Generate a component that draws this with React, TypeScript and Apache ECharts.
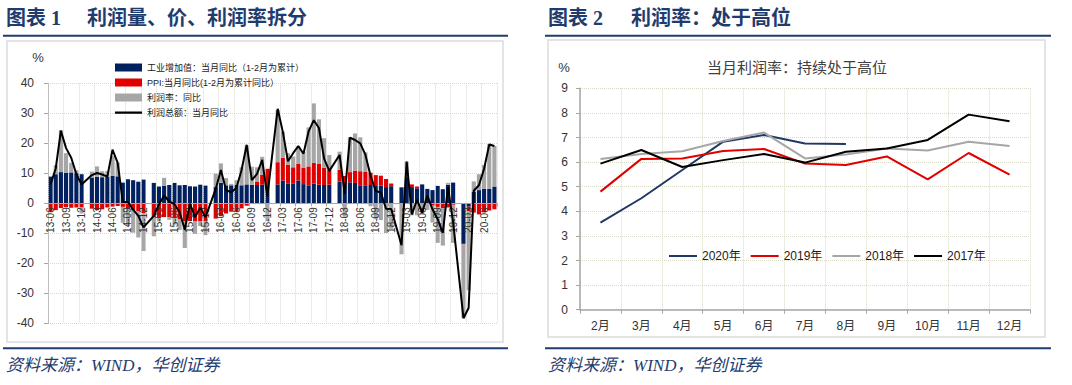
import React, { useEffect, useRef } from 'react';
import * as echarts from 'echarts';

const SANS = "'Liberation Sans', 'Noto Sans CJK SC', sans-serif";
const SERIF = "'Liberation Serif', 'Noto Sans CJK SC', serif";
const NAVY = '#1f3c6e';

// ---------- Left chart (图表 1) ----------
const monthLabels = [
  '13-06','13-07','13-08','13-09','13-10','13-11','13-12',
  '14-01','14-02','14-03','14-04','14-05','14-06','14-07','14-08','14-09','14-10','14-11','14-12',
  '15-01','15-02','15-03','15-04','15-05','15-06','15-07','15-08','15-09','15-10','15-11','15-12',
  '16-01','16-02','16-03','16-04','16-05','16-06','16-07','16-08','16-09','16-10','16-11','16-12',
  '17-01','17-02','17-03','17-04','17-05','17-06','17-07','17-08','17-09','17-10','17-11','17-12',
  '18-01','18-02','18-03','18-04','18-05','18-06','18-07','18-08','18-09','18-10','18-11','18-12',
  '19-01','19-02','19-03','19-04','19-05','19-06','19-07','19-08','19-09','19-10','19-11','19-12',
  '20-01','20-02','20-03','20-04','20-05','20-06','20-07','20-08',
];

const ivaYoY = [
  8.9, 9.7, 10.4, 10.2, 10.3, 10.0, 9.7,
  null, 8.6, 8.8, 8.7, 8.8, 9.2, 9.0, 6.9, 8.0, 7.7, 7.2, 7.9,
  null, 6.8, 5.6, 5.9, 6.1, 6.8, 6.0, 6.1, 5.7, 5.6, 6.2, 5.9,
  null, 5.4, 6.8, 6.0, 6.0, 6.2, 6.0, 6.3, 6.1, 6.1, 6.2, 6.0,
  null, 6.3, 7.6, 6.5, 6.5, 7.6, 6.4, 6.0, 6.6, 6.2, 6.1, 6.2,
  null, 7.2, 6.0, 7.0, 6.8, 6.0, 6.0, 6.1, 5.8, 5.9, 5.4, 5.7,
  null, 5.3, 8.5, 5.4, 5.0, 6.3, 4.8, 4.4, 5.8, 4.7, 6.2, 6.9,
  null, -13.5, -1.1, 3.9, 4.4, 4.8, 4.8, 5.6,
];

const ppiYoY = [
  -2.7, -2.3, -1.6, -1.3, -1.5, -1.4, -1.4,
  null, -1.8, -2.3, -2.0, -1.4, -1.1, -0.9, -1.2, -1.8, -2.2, -2.7, -3.3,
  null, -4.6, -4.6, -4.6, -4.6, -4.8, -5.4, -5.9, -5.9, -5.9, -5.9, -5.9,
  null, -5.1, -4.3, -3.4, -2.8, -2.6, -1.7, -0.8, 0.1, 1.2, 3.3, 5.5,
  null, 7.4, 7.6, 6.4, 5.5, 5.5, 5.5, 6.3, 6.9, 6.9, 5.8, 4.9,
  null, 4.0, 3.1, 3.4, 4.1, 4.7, 4.6, 4.1, 3.6, 3.3, 2.7, 0.9,
  null, 0.1, 0.4, 0.9, 0.6, 0.0, -0.3, -0.8, -1.2, -1.6, -1.4, -0.5,
  null, -0.2, -1.5, -3.1, -3.7, -3.0, -2.4, -2.0,
];

const marginYoY = [
  0.1, 3.0, 14.0, 6.5, 3.2, 1.0, -2.0,
  null, 2.0, 3.5, 2.0, 2.0, 6.5, 4.5, -5.3, -5.8, -7.6, -8.7, -12.6,
  null, -6.4, -1.4, 2.6, -0.9, -2.3, -3.5, -9.0, 0.1, -4.3, -1.7, -4.7,
  null, 4.5, 6.5, 2.4, 0.5, 1.5, 6.0, 13.0, 6.0, 4.7, 6.0, -6.0,
  null, 17.4, 8.7, 3.8, 3.6, 5.8, 5.3, 13.0, 19.8, 14.9, 9.8, 5.0,
  null, 6.0, -4.5, 11.6, 12.4, 11.3, 6.4, -1.0, -5.3, -5.6, -9.9, -8.5,
  null, -17.0, 5.0, -4.0, -4.0, -3.5, -1.9, -5.6, -12.0, -12.5, 0.6, -12.7,
  null, -24.6, -26.4, 3.4, 5.3, 8.0, 15.0, 13.5,
];

const profitYoY = [
  6.3, 11.6, 24.2, 18.4, 15.2, 9.7, 6.3,
  null, 9.4, 10.1, 9.6, 8.9, 17.9, 13.5, 0.4, 0.4, -2.1, -4.2, -8.0,
  null, -4.2, -0.4, 2.6, 0.6, -0.3, -2.9, -8.8, -0.1, -4.6, -1.4, -4.7,
  null, 4.8, 11.1, 4.4, 3.7, 5.1, 11.0, 19.5, 7.7, 9.8, 14.5, 2.3,
  null, 31.5, 23.8, 14.0, 16.7, 19.1, 16.5, 24.0, 27.7, 25.1, 14.9, 10.8,
  null, 16.1, 3.1, 21.9, 21.1, 20.0, 16.2, 9.2, 4.1, 3.6, -1.8, -1.9,
  null, -14.0, 13.9, -3.7, 1.1, -3.1, 2.6, -2.0, -5.3, -9.9, 5.4, -6.3,
  null, -38.3, -34.9, 4.2, 6.0, 11.5, 19.6, 19.1,
];

const leftNames = [
  '工业增加值：当月同比（1-2月为累计）',
  'PPI:当月同比(1-2月为累计同比）',
  '利润率：同比',
  '利润总额：当月同比',
];

// ---------- Right chart (图表 2) ----------
const rightMonths = ['2月', '3月', '4月', '5月', '6月', '7月', '8月', '9月', '10月', '11月', '12月'];
const margin2020 = [3.54, 4.53, 5.68, 6.83, 7.1, 6.76, 6.74, null, null, null, null];
const margin2019 = [4.8, 6.13, 6.15, 6.45, 6.53, 5.94, 5.88, 6.23, 5.3, 6.37, 5.49];
const margin2018 = [6.13, 6.33, 6.44, 6.86, 7.2, 6.15, 6.31, 6.55, 6.47, 6.83, 6.65];
const margin2017 = [5.94, 6.49, 5.8, 6.08, 6.33, 5.98, 6.42, 6.55, 6.9, 7.93, 7.66];
const rightNames = ['2020年', '2019年', '2018年', '2017年'];
const rightColors = ['#1f3864', '#e00000', '#a6a6a6', '#000000'];

const GRID_COLOR = '#d9d9c6';
const AXIS_COLOR = '#a6a6a6';

// thin horizontal bar inside a box (tiny slivers fix the box to the full item height)
const LINE_ICON_LEFT = 'path://M0,0L27,0L27,0.01Z M0,3L27,3L27,5.2L0,5.2Z M0,8L27,8L27,8.01Z';
const LINE_ICON_RIGHT = 'path://M0,0L28,0L28,0.01Z M0,4.9L28,4.9L28,7.1L0,7.1Z M0,12L28,12L28,12.01Z';

export default function App() {
  const ref = useRef<HTMLDivElement>(null);

  useEffect(() => {
    if (!ref.current) return;
    const chart = echarts.init(ref.current, undefined, { renderer: 'svg' });

    const headerText = (x: number, y: number, text: string) => ({
      type: 'text',
      x,
      y,
      style: {
        text,
        fontSize: 20,
        fontWeight: 'bold',
        fontFamily: SERIF,
        fill: NAVY,
        verticalAlign: 'middle',
        align: 'left',
      },
    });

    const option: any = {
      animation: false,
      textStyle: { fontFamily: SANS },
      grid: [
        { left: 48, top: 83.3, width: 449, height: 240 },
        { left: 580, top: 88.3, width: 450, height: 221.4 },
      ],
      xAxis: [
        {
          type: 'category',
          gridIndex: 0,
          data: monthLabels,
          boundaryGap: true,
          position: 'bottom',
          offset: -120,
          z: 3,
          axisLine: { onZero: false, lineStyle: { color: AXIS_COLOR, width: 1 } },
          axisTick: { show: true, interval: 2, length: 3, lineStyle: { color: AXIS_COLOR } },
          axisLabel: { interval: 2, rotate: 90, fontSize: 10, color: '#333333', margin: 4 },
          splitLine: { show: true, interval: 2, lineStyle: { type: 'dotted', color: GRID_COLOR } },
        },
        {
          type: 'category',
          gridIndex: 1,
          data: rightMonths,
          boundaryGap: true,
          axisLine: { lineStyle: { color: AXIS_COLOR, width: 1.5 } },
          axisTick: { show: true, length: 4, lineStyle: { color: AXIS_COLOR } },
          axisLabel: { fontSize: 12, color: '#333333', margin: 10 },
          splitLine: { show: true, lineStyle: { type: 'dotted', color: GRID_COLOR } },
        },
      ],
      yAxis: [
        {
          type: 'value',
          gridIndex: 0,
          min: -40,
          max: 40,
          interval: 10,
          axisLine: { show: true, lineStyle: { color: AXIS_COLOR } },
          axisTick: { show: true, length: 4, lineStyle: { color: AXIS_COLOR } },
          axisLabel: { fontSize: 12, color: '#333333', margin: 14 },
          splitLine: { show: true, lineStyle: { type: 'dotted', color: GRID_COLOR } },
        },
        {
          type: 'value',
          gridIndex: 1,
          min: 0,
          max: 9,
          interval: 1,
          axisLine: { show: true, lineStyle: { color: AXIS_COLOR, width: 1.5 } },
          axisTick: { show: true, length: 4, lineStyle: { color: AXIS_COLOR } },
          axisLabel: { fontSize: 12, color: '#333333', margin: 12 },
          splitLine: { show: true, lineStyle: { type: 'dotted', color: GRID_COLOR } },
        },
      ],
      legend: [
        {
          orient: 'vertical',
          left: 110,
          top: 58,
          itemWidth: 27,
          itemHeight: 8,
          itemGap: 6,
          textStyle: { fontSize: 9, color: '#1a1a1a', fontFamily: SANS },
          data: [
            { name: leftNames[0], icon: 'rect' },
            { name: leftNames[1], icon: 'rect' },
            { name: leftNames[2], icon: 'rect' },
            { name: leftNames[3], icon: LINE_ICON_LEFT },
          ],
        },
        {
          orient: 'horizontal',
          left: 664,
          top: 245,
          itemWidth: 28,
          itemHeight: 12,
          itemGap: 10,
          textStyle: { fontSize: 12, color: '#1a1a1a', fontFamily: SANS },
          data: rightNames.map((n) => ({ name: n, icon: LINE_ICON_RIGHT })),
        },
      ],
      series: [
        {
          name: leftNames[0],
          type: 'bar',
          xAxisIndex: 0,
          yAxisIndex: 0,
          stack: 'left',
          barCategoryGap: '20%',
          itemStyle: { color: '#002060' },
          data: ivaYoY,
        },
        {
          name: leftNames[1],
          type: 'bar',
          xAxisIndex: 0,
          yAxisIndex: 0,
          stack: 'left',
          barCategoryGap: '20%',
          itemStyle: { color: '#e00000' },
          data: ppiYoY,
        },
        {
          name: leftNames[2],
          type: 'bar',
          xAxisIndex: 0,
          yAxisIndex: 0,
          stack: 'left',
          barCategoryGap: '20%',
          itemStyle: { color: '#a6a6a6' },
          data: marginYoY,
        },
        {
          name: leftNames[3],
          type: 'line',
          xAxisIndex: 0,
          yAxisIndex: 0,
          symbol: 'none',
          connectNulls: true,
          z: 5,
          lineStyle: { color: '#000000', width: 2 },
          itemStyle: { color: '#000000' },
          data: profitYoY,
        },
        ...[margin2020, margin2019, margin2018, margin2017].map((d, k) => ({
          name: rightNames[k],
          type: 'line',
          xAxisIndex: 1,
          yAxisIndex: 1,
          symbol: 'none',
          lineStyle: { color: rightColors[k], width: 2 },
          itemStyle: { color: rightColors[k] },
          data: d,
        })),
      ],
      graphic: [
        // left panel
        headerText(6, 18, '图表 1'),
        headerText(87, 18, '利润量、价、利润率拆分'),
        { type: 'rect', shape: { x: 3, y: 34.8, width: 505, height: 2 }, style: { fill: NAVY } },
        { type: 'rect', shape: { x: 7, y: 41, width: 496, height: 301 }, style: { fill: 'none', stroke: '#dcdcdc', lineWidth: 1.5 } },
        { type: 'rect', shape: { x: 3, y: 347.3, width: 505, height: 2 }, style: { fill: NAVY } },
        {
          type: 'text', x: 6, y: 365.5,
          style: { text: '资料来源：WIND，华创证券', fontSize: 17, fontStyle: 'italic', fontFamily: SERIF, fill: NAVY, verticalAlign: 'middle' },
        },
        {
          type: 'text', x: 38, y: 57,
          style: { text: '%', fontSize: 13, fontFamily: SANS, fill: '#333333', verticalAlign: 'middle', align: 'center' },
        },
        // right panel
        headerText(548, 18, '图表 2'),
        headerText(631, 18, '利润率：处于高位'),
        { type: 'rect', shape: { x: 545, y: 34.8, width: 506, height: 2 }, style: { fill: NAVY } },
        { type: 'rect', shape: { x: 548, y: 40, width: 497, height: 297 }, style: { fill: 'none', stroke: '#dcdcdc', lineWidth: 1.5 } },
        { type: 'rect', shape: { x: 545, y: 347.3, width: 506, height: 2 }, style: { fill: NAVY } },
        {
          type: 'text', x: 548, y: 365.5,
          style: { text: '资料来源：WIND，华创证券', fontSize: 17, fontStyle: 'italic', fontFamily: SERIF, fill: NAVY, verticalAlign: 'middle' },
        },
        {
          type: 'text', x: 797, y: 67,
          style: { text: '当月利润率：持续处于高位', fontSize: 15, fontFamily: SANS, fill: '#404040', verticalAlign: 'middle', align: 'center' },
        },
        {
          type: 'text', x: 564, y: 67,
          style: { text: '%', fontSize: 13, fontFamily: SANS, fill: '#333333', verticalAlign: 'middle', align: 'center' },
        },
      ],
    };

    chart.setOption(option);
    return () => chart.dispose();
  }, []);

  return (
    <div
      ref={ref}
      style={{ position: 'absolute', left: 0, top: 0, width: 1072, height: 385, background: '#ffffff' }}
    />
  );
}
